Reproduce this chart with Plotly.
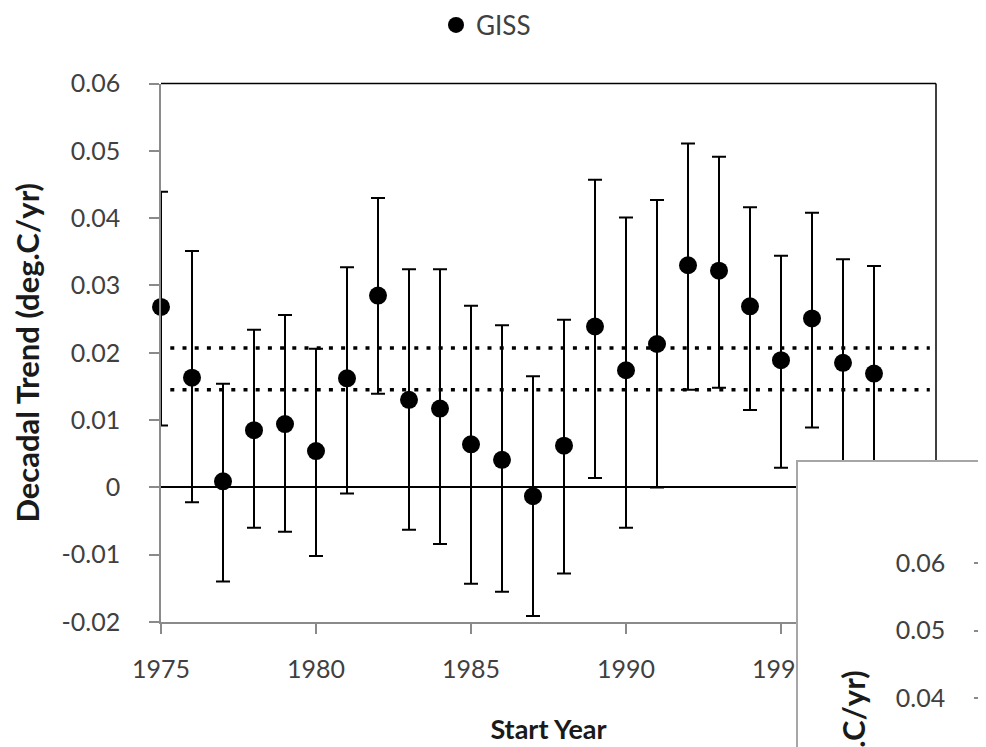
import plotly.graph_objects as go

# GISS decadal trends by start year (deg.C/yr)
years = list(range(1975, 1999))
trend = [0.0268, 0.0163, 0.0009, 0.0085, 0.0094, 0.0054, 0.0162, 0.0285,
         0.0130, 0.0117, 0.0064, 0.0041, -0.0013, 0.0062, 0.0239, 0.0174,
         0.0213, 0.0330, 0.0322, 0.0269, 0.0189, 0.0251, 0.0185, 0.0169]
upper = [0.0439, 0.0351, 0.0154, 0.0234, 0.0256, 0.0206, 0.0327, 0.0430,
         0.0324, 0.0324, 0.0270, 0.0241, 0.0165, 0.0249, 0.0457, 0.0401,
         0.0427, 0.0511, 0.0491, 0.0416, 0.0344, 0.0408, 0.0339, 0.0329]
lower = [0.0092, -0.0022, -0.0140, -0.0060, -0.0066, -0.0102, -0.0009, 0.0139,
         -0.0063, -0.0084, -0.0143, -0.0155, -0.0191, -0.0128, 0.0014, -0.0060,
         0.0000, 0.0145, 0.0148, 0.0115, 0.0029, 0.0089, 0.0031, 0.0009]

# dotted reference levels
ref_levels = [0.0145, 0.0207]
ref_span = [1975.3, 1999.8]

x_ticks = [1975, 1980, 1985, 1990, 1995, 2000]
y_ticks = [-0.02, -0.01, 0, 0.01, 0.02, 0.03, 0.04, 0.05, 0.06]

# the second chart window pasted over the bottom right corner
inset_ticks = [0.04, 0.05, 0.06]
inset_year = [1975]
inset_trend = [0.028]
inset_upper = [0.0449]

FONT = "Lato"
W, H = 986, 747
PAGE_OFF = 8  # default body margin of the html page
PX_PER_UNIT = 6730  # pixels per deg.C/yr on both value axes


def px_x(p):
    return (p - PAGE_OFF) / W


def px_y(p):
    return 1 - (p - PAGE_OFF) / H


def tick_label(v):
    return "0" if v == 0 else f"{v:.2f}"


fig = go.Figure()

for lvl in ref_levels:
    fig.add_trace(
        go.Scatter(
            x=ref_span,
            y=[lvl, lvl],
            mode="lines",
            line=dict(color="black", width=3.5, dash="4px,8.2px"),
            showlegend=False,
            hoverinfo="skip",
        )
    )

fig.add_trace(
    go.Scatter(
        x=years,
        y=trend,
        mode="markers",
        name="GISS",
        cliponaxis=False,
        marker=dict(color="black", size=18),
        error_y=dict(
            type="data",
            symmetric=False,
            array=[u - t for u, t in zip(upper, trend)],
            arrayminus=[t - l for t, l in zip(trend, lower)],
            color="black",
            thickness=2,
            width=7,
        ),
    )
)

# white window of the overlapping chart
fig.add_trace(go.Scatter(x=[], y=[], xaxis="x2", yaxis="y2", showlegend=False))

# the bit of that chart that is visible
fig.add_trace(
    go.Scatter(
        x=inset_year,
        y=inset_trend,
        xaxis="x3",
        yaxis="y3",
        mode="markers",
        marker=dict(color="black", size=18),
        error_y=dict(
            type="data",
            symmetric=False,
            array=[u - t for u, t in zip(inset_upper, inset_trend)],
            arrayminus=[0],
            color="black",
            thickness=2,
            width=7,
        ),
        showlegend=False,
        hoverinfo="skip",
    )
)

axis_grey = "#8a8a8a"
tick_font = dict(family=FONT, size=25, color="#404040")
xtitle_font = dict(family=FONT, size=27, color="#1a1a1a")
ytitle_font = dict(family=FONT, size=31, color="#1a1a1a")

inset_bottom_px = PAGE_OFF + H  # bottom edge of the figure in page pixels

fig.update_layout(
    width=W,
    height=H,
    margin=dict(l=0, r=0, t=0, b=0, autoexpand=False),
    paper_bgcolor="white",
    plot_bgcolor="white",
    font=dict(family=FONT, size=25, color="#404040"),
    legend=dict(
        orientation="h",
        x=px_x(486),
        xanchor="center",
        y=px_y(25),
        yanchor="middle",
        font=dict(family=FONT, size=26, color="#404040"),
    ),
    xaxis=dict(
        domain=[px_x(161), px_x(936)],
        range=[1975, 2000],
        tickvals=x_ticks,
        automargin=False,
        showline=True,
        linecolor=axis_grey,
        linewidth=1.5,
        ticks="outside",
        ticklen=10,
        tickwidth=1.5,
        tickcolor=axis_grey,
        tickfont=tick_font,
        ticklabelstandoff=14,
        showgrid=False,
        zeroline=False,
        title=dict(text="<b>Start Year</b>", font=xtitle_font, standoff=38),
    ),
    yaxis=dict(
        domain=[px_y(622), px_y(83.5)],
        range=[-0.02, 0.06],
        tickvals=y_ticks,
        ticktext=[tick_label(v) for v in y_ticks],
        automargin=False,
        showline=True,
        linecolor=axis_grey,
        linewidth=1.5,
        ticks="outside",
        ticklen=10,
        tickwidth=1.5,
        tickcolor=axis_grey,
        tickfont=tick_font,
        ticklabelstandoff=24,
        showgrid=False,
        zeroline=True,
        zerolinecolor="black",
        zerolinewidth=1.5,
        title=dict(text="<b>Decadal Trend (deg.C/yr)</b>", font=ytitle_font, standoff=22),
    ),
    xaxis2=dict(
        domain=[px_x(797.5), 1],
        range=[0, 1],
        anchor="y2",
        automargin=False,
        showline=True,
        mirror=True,
        linecolor="#a6a6a6",
        linewidth=2,
        showticklabels=False,
        showgrid=False,
        zeroline=False,
    ),
    yaxis2=dict(
        domain=[0, px_y(461.7)],
        range=[0, 1],
        anchor="x2",
        automargin=False,
        showline=True,
        mirror=True,
        linecolor="#a6a6a6",
        linewidth=2,
        showticklabels=False,
        showgrid=False,
        zeroline=False,
    ),
    xaxis3=dict(
        domain=[px_x(971), 1],
        range=[1975 - 14 / 31, 1975 + 9 / 31],
        anchor="y3",
        automargin=False,
        visible=False,
    ),
    yaxis3=dict(
        domain=[0, px_y(563.3)],
        range=[0.06 - (inset_bottom_px - 563.3) / PX_PER_UNIT, 0.06],
        anchor="free",
        position=px_x(985),
        tickvals=inset_ticks,
        ticktext=[tick_label(v) for v in inset_ticks],
        automargin=False,
        showline=True,
        linecolor=axis_grey,
        linewidth=1.5,
        ticks="outside",
        ticklen=10,
        tickwidth=1.5,
        tickcolor=axis_grey,
        tickfont=tick_font,
        ticklabelstandoff=24,
        showgrid=False,
        zeroline=False,
    ),
)

# plot area border on top and right (below the pasted window)
fig.add_shape(type="line", xref="paper", yref="paper", layer="below",
              x0=px_x(161), x1=px_x(936), y0=px_y(83.5), y1=px_y(83.5),
              line=dict(color="black", width=1.5))
fig.add_shape(type="line", xref="paper", yref="paper", layer="below",
              x0=px_x(936), x1=px_x(936), y0=px_y(622), y1=px_y(83.5),
              line=dict(color="black", width=1.5))

# y title of the pasted chart, mostly cut off
fig.add_annotation(
    text="<b>Decadal Trend (deg.C/yr)</b>",
    textangle=-90,
    xref="paper",
    yref="paper",
    x=px_x(853),
    y=px_y(840),
    xanchor="center",
    yanchor="middle",
    showarrow=False,
    font=ytitle_font,
)

fig.write_html("out.html")
